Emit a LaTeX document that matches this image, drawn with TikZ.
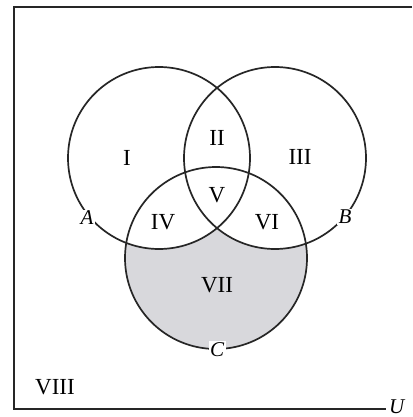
\documentclass[tikz,border=0pt]{standalone}
\usepackage{fontspec}
\setmainfont{Liberation Serif}
\definecolor{vennshade}{RGB}{216,216,220}
\begin{document}
\begin{tikzpicture}[x=1pt,y=-1pt,
  region/.style={font=\fontsize{23}{26}\selectfont, inner sep=0pt},
  setlabel/.style={font=\fontsize{21}{24}\selectfont\itshape, fill=white, inner sep=1.5pt},
  ring/.style={line width=1.7pt, draw=black!85}]
\useasboundingbox (0,0) rectangle (412,417);
\fill[white] (0,0) rectangle (412,417);
\coordinate (cA) at (159,158);
\coordinate (cB) at (275,158);
\coordinate (cC) at (216,258);
% frame
\coordinate (tl) at (14,7);
\coordinate (tr) at (412,7);
\coordinate (bl) at (14,409);
\coordinate (br) at (386,409);
\draw[line width=1.7pt, black!85] (tr) -- (tl) -- (bl) -- (br);
% shaded region VII
\fill[vennshade] (cC) circle[radius=91pt];
\fill[white] (cA) circle[radius=91pt];
\fill[white] (cB) circle[radius=91pt];
\draw[ring] (cA) circle[radius=91pt];
\draw[ring] (cB) circle[radius=91pt];
\draw[ring] (cC) circle[radius=91pt];
% region labels
\node[region] (r1) at (127,158) {I};
\node[region] (r2) at (217,138) {II};
\node[region] (r3) at (300,157) {III};
\node[region] (r4) at (163,222) {IV};
\node[region] (r5) at (217,195) {V};
\node[region] (r6) at (267,222) {VI};
\node[region] (r7) at (217,285) {VII};
\node[region] (r8) at (55,387) {VIII};
% set labels
\node[setlabel] (lA) at (87,218) {A};
\node[setlabel] (lB) at (345,217) {B};
\node[setlabel] (lC) at (217,350) {C};
\node[setlabel, anchor=west, inner sep=1pt] (lU) at (388,407) {U};
\end{tikzpicture}
\end{document}
